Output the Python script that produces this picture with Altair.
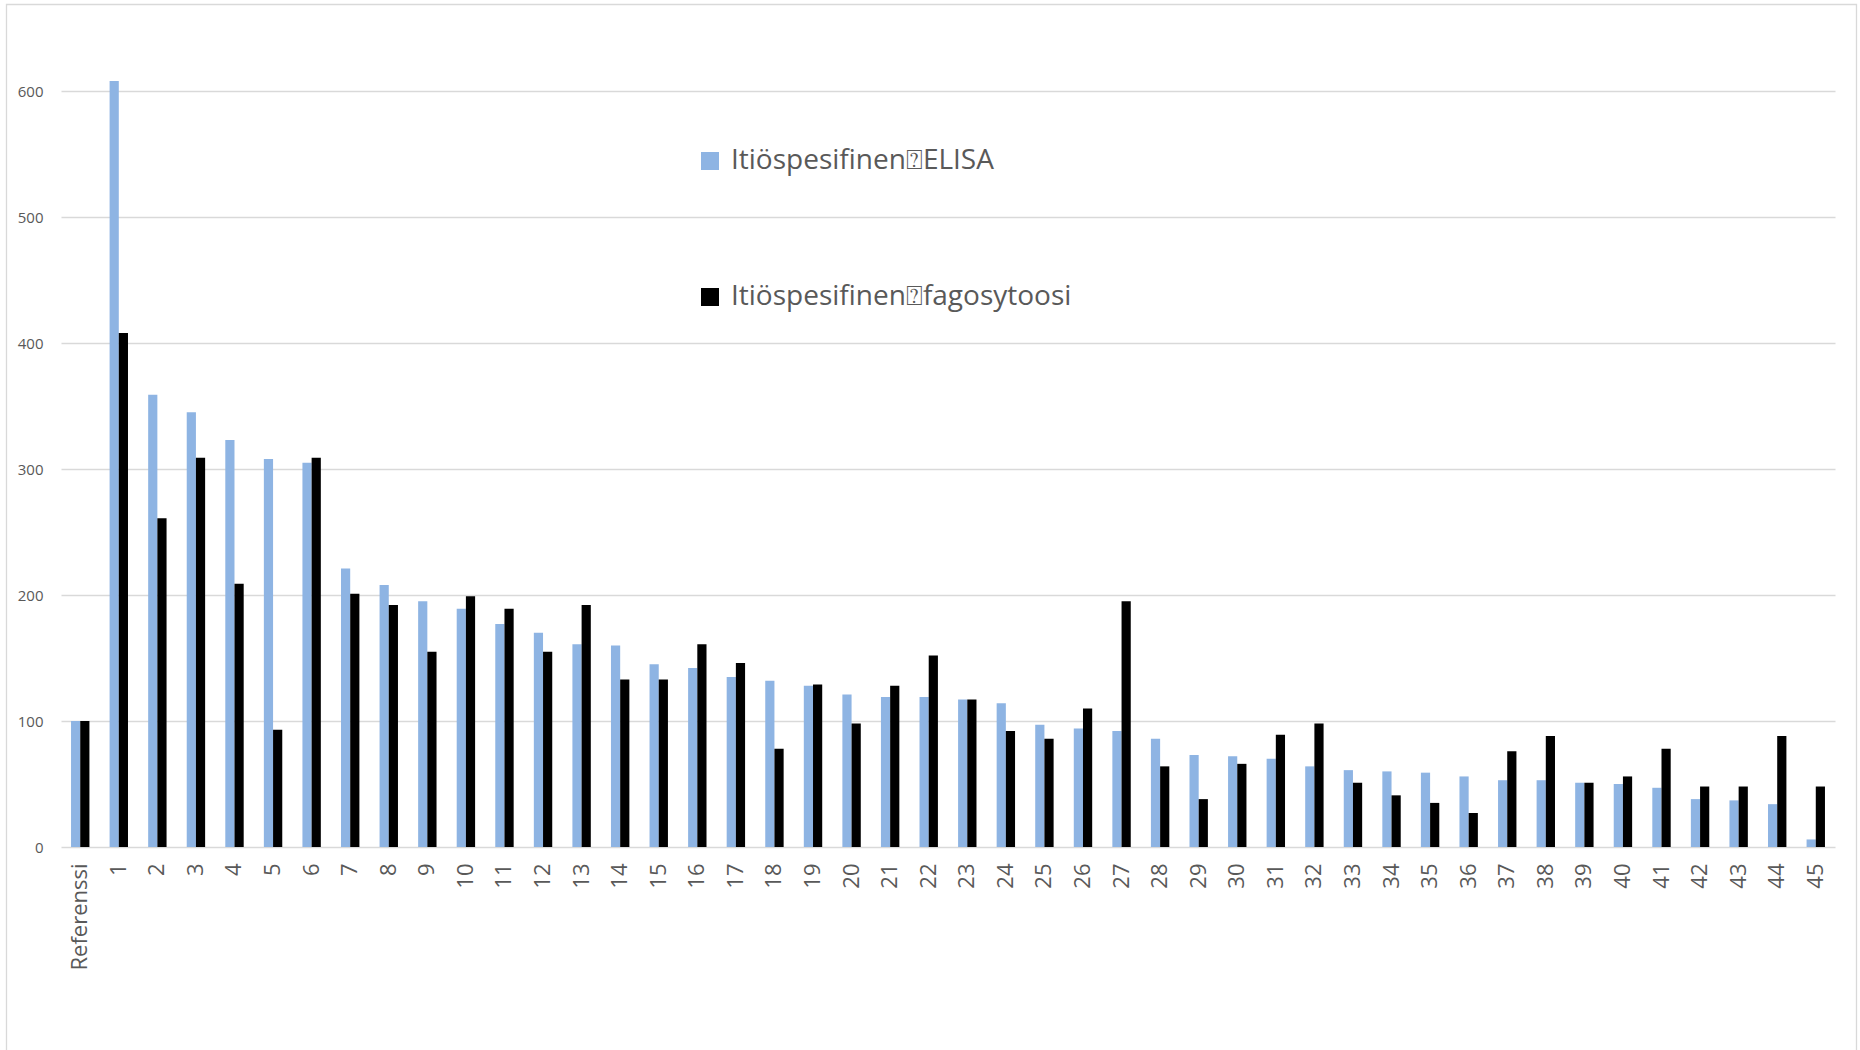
import altair as alt
import pandas as pd

# Sample labels on the x axis
categories = ["Referenssi"] + [str(i) for i in range(1, 46)]

# Series names (joined by a placeholder-box glyph)
SEP = "\u2370"
series_names = ["Itiöspesifinen" + SEP + "ELISA", "Itiöspesifinen" + SEP + "fagosytoosi"]

# Relative values per sample (Referenssi = 100)
elisa = [100, 608, 359, 345, 323, 308, 305, 221, 208, 195, 189, 177, 170, 161, 160,
         145, 142, 135, 132, 128, 121, 119, 119, 117, 114, 97, 94, 92, 86, 73, 72,
         70, 64, 61, 60, 59, 56, 53, 53, 51, 50, 47, 38, 37, 34, 6]
fagosytoosi = [100, 408, 261, 309, 209, 93, 309, 201, 192, 155, 199, 189, 155, 192, 133,
               133, 161, 146, 78, 129, 98, 128, 152, 117, 92, 86, 110, 195, 64, 38, 66,
               89, 98, 51, 41, 35, 27, 76, 88, 51, 56, 78, 48, 48, 88, 48]

y_ticks = [0, 100, 200, 300, 400, 500, 600]
colors = ["#8EB4E3", "#000000"]

rows = []
for cat, a, b in zip(categories, elisa, fagosytoosi):
    rows.append({"nayte": cat, "sarja": series_names[0], "arvo": a})
    rows.append({"nayte": cat, "sarja": series_names[1], "arvo": b})
df = pd.DataFrame(rows)

GRID = "#D9D9D9"
TEXT = "#595959"
FONT = "Open Sans"

bars = alt.Chart(df).mark_bar().encode(
    x=alt.X(
        "nayte:N",
        sort=categories,
        scale=alt.Scale(paddingInner=0.523, paddingOuter=0.26),
        axis=alt.Axis(
            title=None, labelAngle=-90, labelFont=FONT, labelFontSize=22,
            labelColor=TEXT, labelPadding=16, ticks=False, domain=False, grid=False,
        ),
    ),
    xOffset=alt.XOffset("sarja:N", sort=series_names, scale=alt.Scale(paddingInner=0, paddingOuter=0)),
    y=alt.Y(
        "arvo:Q",
        scale=alt.Scale(domain=[0, 650], nice=False),
        axis=alt.Axis(
            title=None, values=y_ticks, grid=True, gridColor=GRID, gridWidth=1.3,
            domain=False, ticks=False, labelFont=FONT, labelFontSize=15,
            labelColor=TEXT, labelPadding=18,
        ),
    ),
    color=alt.Color(
        "sarja:N",
        sort=series_names,
        scale=alt.Scale(domain=series_names, range=colors),
        legend=alt.Legend(
            title=None, orient="none", legendX=635, legendY=119, direction="vertical",
            symbolType="square", symbolSize=324, symbolStrokeWidth=0,
            labelFont=FONT, labelFontSize=28, labelColor=TEXT, labelOffset=7,
            rowPadding=108, padding=0, labelLimit=700,
        ),
    ),
)

# Thin frame around the whole chart area
frame = alt.Chart(pd.DataFrame({"f": [0]})).mark_rect(
    fillOpacity=0, stroke=GRID, strokeWidth=1.3
).encode(
    x=alt.value(-54.5), x2=alt.value(1795.5), y=alt.value(-23.5), y2=alt.value(1030)
)

chart = alt.layer(frame, bars).properties(
    width=1774,
    height=819,
    padding={"left": 61, "top": 28, "right": 25, "bottom": 203},
    autosize=alt.AutoSizeParams(type="none"),
    background="white",
).configure_view(strokeWidth=0)

chart.save("out.html", embed_options={"renderer": "svg", "actions": False})
